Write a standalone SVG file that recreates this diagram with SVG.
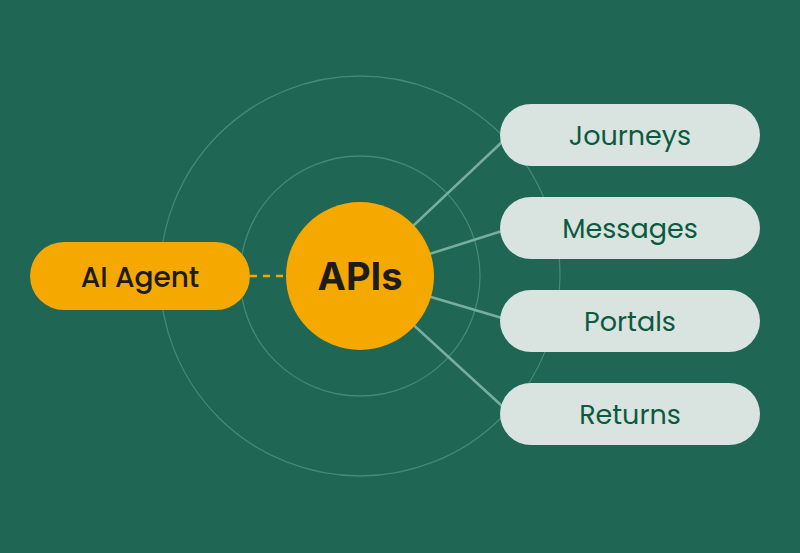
<svg xmlns="http://www.w3.org/2000/svg" width="800" height="553" viewBox="0 0 800 553">
<style>
.ring{fill:none;stroke:#5e9a8a;stroke-width:1.3;opacity:0.65}
.conn{stroke:#78ae9f;stroke-width:2.5;fill:none}
.pill{fill:#d9e3df}
.plabel{font-family:Poppins,"Open Sans","Noto Sans",sans-serif;font-size:27px;font-weight:400;fill:#0b5a40;text-anchor:middle}
</style>
<rect width="800" height="553" fill="#1f6654"/>
<circle class="ring" cx="360" cy="276" r="200"/>
<circle class="ring" cx="360" cy="276" r="120"/>
<g id="connectors">
<line class="conn" x1="360" y1="276" x2="502" y2="142"/>
<line class="conn" x1="360" y1="276" x2="502" y2="231"/>
<line class="conn" x1="360" y1="276" x2="502" y2="318"/>
<line class="conn" x1="360" y1="276" x2="502" y2="406"/>
<line x1="250" y1="276" x2="287" y2="276" stroke="#f5a800" stroke-width="2.5" stroke-dasharray="7 6"/>
</g>
<g id="ai-agent">
<rect x="30" y="242" width="220" height="68" rx="34" fill="#f5a800"/>
<text x="140" y="287" font-family="Poppins,'Open Sans','Noto Sans',sans-serif" font-size="28" font-weight="500" fill="#1c1c1c" text-anchor="middle">AI Agent</text>
</g>
<g id="apis">
<circle cx="360" cy="276" r="74" fill="#f5a800"/>
<text x="360" y="290" font-family="Inter,'Liberation Sans',sans-serif" font-weight="bold" font-size="38" fill="#1c1c1c" text-anchor="middle">APIs</text>
</g>
<g id="journeys">
<rect class="pill" x="500" y="104" width="260" height="62" rx="31"/>
<text class="plabel" x="630" y="145">Journeys</text>
</g>
<g id="messages">
<rect class="pill" x="500" y="197" width="260" height="62" rx="31"/>
<text class="plabel" x="630" y="238">Messages</text>
</g>
<g id="portals">
<rect class="pill" x="500" y="290" width="260" height="62" rx="31"/>
<text class="plabel" x="630" y="331">Portals</text>
</g>
<g id="returns">
<rect class="pill" x="500" y="383" width="260" height="62" rx="31"/>
<text class="plabel" x="630" y="424">Returns</text>
</g>
</svg>
